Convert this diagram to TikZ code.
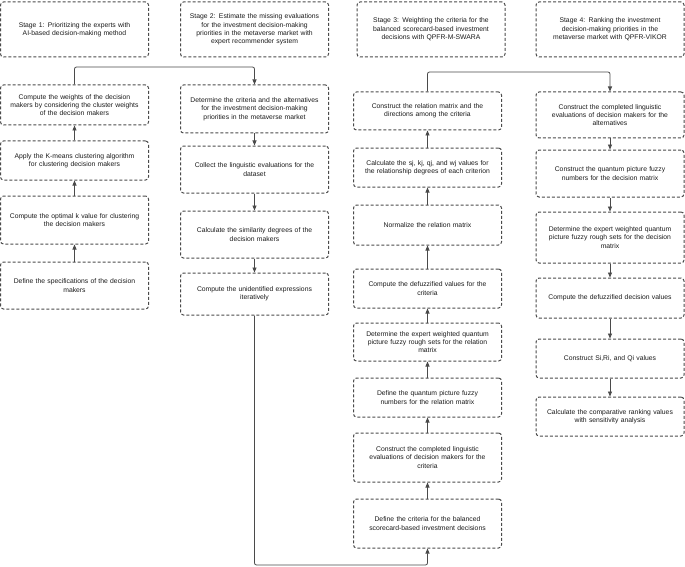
\documentclass[tikz,border=0pt]{standalone}
\usepackage{fontspec}
\setmainfont{Liberation Sans}
\usetikzlibrary{arrows.meta}
\definecolor{edge}{HTML}{4A4A4A}
\definecolor{txt}{HTML}{1A1A1A}
\tikzset{
  stagebox/.style={draw=edge, line width=1pt, dash pattern=on 3pt off 2pt,
    rounded corners=3pt, align=center, text width=142pt, inner xsep=3pt, inner ysep=1pt,
    text=txt, font=\fontsize{6.8}{8.4}\selectfont, minimum height=#1},
  arr/.style={draw=edge, line width=0.8pt, rounded corners=2pt,
    -{Triangle[length=5pt,width=4pt]}}
}
\begin{document}
\begin{tikzpicture}[x=1pt,y=-1pt]
\useasboundingbox (0,0) rectangle (685,567);
% stage headers
\node[stagebox=55] (s1) at (74.5,29.5) {Stage 1: Prioritizing the experts with\\AI-based decision-making method};
\node[stagebox=55] (s2) at (254.5,29.5) {Stage 2: Estimate the missing evaluations\\for the investment decision-making\\priorities in the metaverse market with\\expert recommender system};
\node[stagebox=55] (s3) at (431,29.5) {Stage 3: Weighting the criteria for the\\balanced scorecard-based investment\\decisions with QPFR-M-SWARA};
\node[stagebox=55] (s4) at (610,29.5) {Stage 4: Ranking the investment\\decision-making priorities in the\\metaverse market with QPFR-VIKOR};
% column 1
\node[stagebox=40] (a1) at (74.5,105) {Compute the weights of the decision\\makers by considering the cluster weights\\of the decision makers};
\node[stagebox=39] (a2) at (74.5,160.5) {Apply the K-means clustering algorithm\\for clustering decision makers};
\node[stagebox=48] (a3) at (74.5,220) {Compute the optimal k value for clustering\\the decision makers};
\node[stagebox=47] (a4) at (74.5,285.5) {Define the specifications of the decision\\makers};
% column 2
\node[stagebox=48] (b1) at (254.5,109) {Determine the criteria and the alternatives\\for the investment decision-making\\priorities in the metaverse market};
\node[stagebox=47] (b2) at (254.5,169.5) {Collect the linguistic evaluations for the\\dataset};
\node[stagebox=47] (b3) at (254.5,234.5) {Calculate the similarity degrees of the\\decision makers};
\node[stagebox=42] (b4) at (254.5,294) {Compute the unidentified expressions\\iteratively};
% column 3
\node[stagebox=38] (c1) at (427.5,111) {Construct the relation matrix and the\\directions among the criteria};
\node[stagebox=39] (c2) at (427.5,167.5) {Calculate the sj, kj, qj, and wj values for\\the relationship degrees of each criterion};
\node[stagebox=40] (c3) at (427.5,225) {Normalize the relation matrix};
\node[stagebox=39] (c4) at (427.5,288.5) {Compute the defuzzified values for the\\criteria};
\node[stagebox=38] (c5) at (427.5,342) {Determine the expert weighted quantum\\picture fuzzy rough sets for the relation\\matrix};
\node[stagebox=39] (c6) at (427.5,397.5) {Define the quantum picture fuzzy\\numbers for the relation matrix};
\node[stagebox=49] (c7) at (427.5,457.5) {Construct the completed linguistic\\evaluations of decision makers for the\\criteria};
\node[stagebox=49] (c8) at (427.5,523.5) {Define the criteria for the balanced\\scorecard-based investment decisions};
% column 4
\node[stagebox=46] (d1) at (610,115) {Construct the completed linguistic\\evaluations of decision makers for the\\alternatives};
\node[stagebox=47] (d2) at (610,173.5) {Construct the quantum picture fuzzy\\numbers for the decision matrix};
\node[stagebox=51] (d3) at (610,237.5) {Determine the expert weighted quantum\\picture fuzzy rough sets for the decision\\matrix};
\node[stagebox=40] (d4) at (610,298) {Compute the defuzzified decision values};
\node[stagebox=39] (d5) at (610,358.5) {Construct Si,Ri, and Qi values};
\node[stagebox=39] (d6) at (610,416.5) {Calculate the comparative ranking values\\with sensitivity analysis};
% vertical arrows
\draw[arr] (a4) -- (a3);
\draw[arr] (a3) -- (a2);
\draw[arr] (a2) -- (a1);
\draw[arr] (b1) -- (b2);
\draw[arr] (b2) -- (b3);
\draw[arr] (b3) -- (b4);
\draw[arr] (c8) -- (c7);
\draw[arr] (c7) -- (c6);
\draw[arr] (c6) -- (c5);
\draw[arr] (c5) -- (c4);
\draw[arr] (c4) -- (c3);
\draw[arr] (c3) -- (c2);
\draw[arr] (c2) -- (c1);
\draw[arr] (d1) -- (d2);
\draw[arr] (d2) -- (d3);
\draw[arr] (d3) -- (d4);
\draw[arr] (d4) -- (d5);
\draw[arr] (d5) -- (d6);
% elbow connectors
\coordinate (k1) at (254.5,67);
\draw[arr] (a1.north) |- (k1) -- (b1.north);
\coordinate (k2) at (427.5,565);
\draw[arr] (b4.south) |- (k2) -- (c8.south);
\coordinate (k3) at (610,72);
\draw[arr] (c1.north) |- (k3) -- (d1.north);
\end{tikzpicture}
\end{document}
